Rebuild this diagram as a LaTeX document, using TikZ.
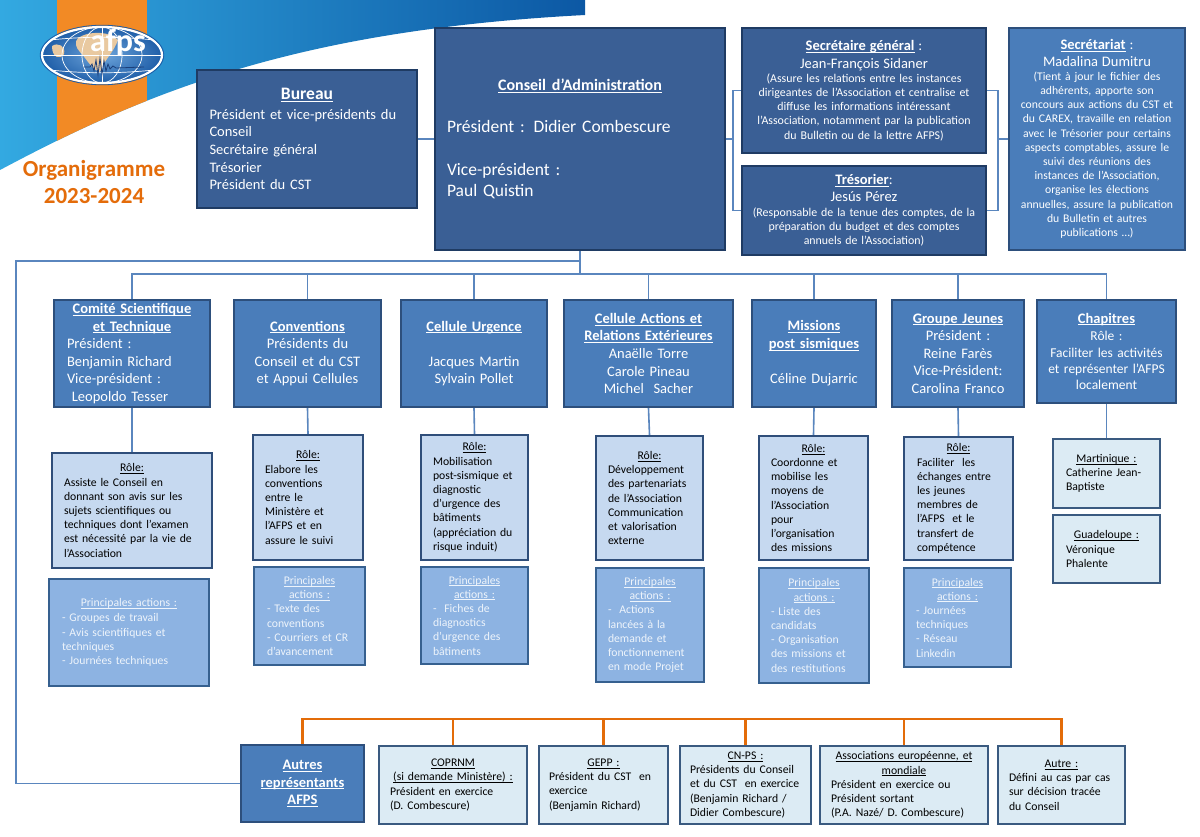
\documentclass[tikz,border=0pt]{standalone}
\usepackage{fontspec}
\setmainfont{Carlito}
\usetikzlibrary{calc}
\definecolor{cDark}{HTML}{3A5F95}
\definecolor{cDarkB}{HTML}{1F3B63}
\definecolor{cMid}{HTML}{4A7DBA}
\definecolor{cMidB}{HTML}{2D4F7C}
\definecolor{cRole}{HTML}{C6D9F0}
\definecolor{cRoleB}{HTML}{2F4E7A}
\definecolor{cAct}{HTML}{8DB3E2}
\definecolor{cActB}{HTML}{36608F}
\definecolor{cActT}{HTML}{EEF4FB}
\definecolor{cPale}{HTML}{DCEBF4}
\definecolor{cPaleB}{HTML}{3A5A80}
\definecolor{cLink}{HTML}{5A86BE}
\definecolor{cOrange}{HTML}{E36C09}
\definecolor{cTitle}{HTML}{E46C0A}
\definecolor{cBanL}{HTML}{33A9E1}
\definecolor{cBanR}{HTML}{0C58A4}
\definecolor{cStripe}{HTML}{F28A25}
\definecolor{cGlobeI}{HTML}{6FA6DC}
\definecolor{cGlobeO}{HTML}{1F5EA8}
\definecolor{cLand}{HTML}{E9C9A0}
\definecolor{cSeis}{HTML}{1B3F7A}
\newcommand{\ctrline}[1]{\makebox[\linewidth][c]{#1}}
\newcommand{\uln}[1]{\underline{\raisebox{0pt}[\height][0pt]{#1}}}
\begin{document}
\begin{tikzpicture}[x=1pt,y=-1pt,
  bx/.style={draw, line width=2.4pt, inner ysep=0pt, inner xsep=12pt, font=\fontsize{11.7}{14.2}\selectfont},
  darkbox/.style={bx, fill=cDark, draw=cDarkB, text=white},
  midbox/.style={bx, fill=cMid, draw=cMidB, text=white},
  rowtwo/.style={midbox, font=\fontsize{14.5}{17.6}\selectfont},
  rolebox/.style={bx, fill=cRole, draw=cRoleB, text=black, align=left},
  actbox/.style={bx, fill=cAct, draw=cActB, text=cActT, align=left},
  palebox/.style={bx, fill=cPale, draw=cPaleB, text=black, align=left},
  sz/.style 2 args={minimum width=#1pt, minimum height=#2pt},
  link/.style={draw=cLink, line width=1.6pt},
  olink/.style={draw=cOrange, line width=2.6pt},
]
\useasboundingbox (0,0) rectangle (1200,837);
\fill[white] (0,0) rectangle (1200,837);

% ---- banner ----
\shade[left color=cBanL, right color=cBanR] (0,0) -- (585,0) -- (585,15) .. controls (300,30) and (150,90) .. (0,170) -- cycle;
\begin{scope}
  \clip (0,0) -- (585,0) -- (585,15) .. controls (300,30) and (150,90) .. (0,170) -- cycle;
  \fill[cStripe] (57,0) rectangle (147,200);
\end{scope}

% ---- logo ----
\begin{scope}
  \clip (102,55) ellipse [x radius=60, y radius=28];
  \shade[inner color=cGlobeI, outer color=cGlobeO] (102,55) ellipse [x radius=60, y radius=28];
  \fill[cLand] (78,38) .. controls (90,30) and (112,32) .. (118,40) .. controls (114,52) and (104,60) .. (100,72) .. controls (92,70) and (86,58) .. (80,52) .. controls (76,48) and (74,42) .. (78,38) -- cycle;
  \fill[cLand] (52,46) .. controls (58,42) and (66,46) .. (64,54) .. controls (60,60) and (52,58) .. (52,46) -- cycle;
  \draw[white, line width=0.7pt] (102,27) -- (102,83);
  \draw[white, line width=0.7pt] (102,55) ellipse [x radius=20, y radius=28];
  \draw[white, line width=0.7pt] (102,55) ellipse [x radius=40, y radius=28];
  \draw[white, line width=0.7pt] (42,55) -- (162,55);
  \draw[white, line width=0.7pt] (42,41) .. controls (80,36) and (124,36) .. (162,41);
  \draw[white, line width=0.7pt] (42,69) .. controls (80,74) and (124,74) .. (162,69);
\end{scope}
\draw[white, line width=2.2pt] (102,55) ellipse [x radius=60, y radius=28];
\draw[cGlobeO, line width=0.8pt] (102,55) ellipse [x radius=61.8, y radius=29.8];
\draw[cSeis, line width=0.8pt] (84,67) -- (90,67) -- (92,64) -- (94,71) -- (96,60) -- (98,75) -- (100,58) -- (102,74) -- (104,61) -- (106,71) -- (108,64) -- (110,69) -- (113,66) -- (116,68) -- (144,67);
\node[anchor=base, font=\fontsize{32}{32}\selectfont\bfseries, text=white, inner sep=0pt] (logo) at (118,52) {afps};

% ---- title ----
\node[align=center, text=cTitle, font=\fontsize{23}{27}\selectfont\bfseries] (orga) at (94,182) {Organigramme\\2023-2024};

% ---- top boxes ----
\node[darkbox, sz={220}{138}, inner xsep=12.5pt, text width=195pt, align=left, font=\fontsize{14.5}{17.7}\selectfont] (bureau) at (307,139)
 {\ctrline{\fontsize{17.5}{20}\selectfont\bfseries\uln{Bureau}}\\[2pt]
  Président et vice-présidents du\\ Conseil\\ Secrétaire général\\ Trésorier\\ Président du CST};

\node[darkbox, sz={290}{222}, text width=266pt, align=left, font=\fontsize{17.5}{21.3}\selectfont] (ca) at (580,139)
 {\ctrline{\fontsize{16}{19}\selectfont\bfseries\uln{Conseil d’Administration}}\\[20pt]
  Président : Didier Combescure\\[22pt]
  Vice-président :\\ Paul Quistin};

\node[darkbox, sz={244}{125}, inner xsep=6pt, text width=232pt, align=center] (sg) at (864,90.5)
 {{\fontsize{14.5}{17.5}\selectfont\textbf{\uln{Secrétaire général}} :\\ Jean-François Sidaner\par}
  {\fontsize{11.9}{14.2}\selectfont (Assure les relations entre les instances\\ dirigeantes de l’Association et centralise et\\ diffuse les informations intéressant\\ l’Association, notamment par la publication\\ du Bulletin ou de la lettre AFPS)\par}};

\node[darkbox, sz={244}{89}, inner xsep=6pt, text width=232pt, align=center] (tres) at (864,210.5)
 {{\fontsize{14.5}{17}\selectfont\textbf{\uln{Trésorier}}:\\ Jesús Pérez\par}
  {\fontsize{11.9}{14.2}\selectfont (Responsable de la tenue des comptes, de la\\ préparation du budget et des comptes\\ annuels de l’Association)\par}};

\node[midbox, sz={176}{222}, inner xsep=5pt, text width=166pt, align=center] (secr) at (1097,139)
 {{\fontsize{14.5}{16.5}\selectfont\textbf{\uln{Secrétariat}} :\\ Madalina Dumitru\par}
  {\fontsize{11.7}{14.2}\selectfont (Tient à jour le fichier des\\ adhérents, apporte son\\ concours aux actions du CST et\\ du CAREX, travaille en relation\\ avec le Trésorier pour certains\\ aspects comptables, assure le\\ suivi des réunions des\\ instances de l’Association,\\ organise les élections\\ annuelles, assure la publication\\ du Bulletin et autres\\ publications …)\par}};

% ---- second row ----
\node[rowtwo, sz={156}{107}, inner xsep=13pt, text width=130pt, align=left] (cst) at (132,353.5)
 {\ctrline{\textbf{\uln{Comité Scientifique}}}\\ \ctrline{\textbf{\uln{et Technique}}}\\
  Président :\\ Benjamin Richard\\ Vice-président :\\ \ Leopoldo Tesser};
\node[rowtwo, sz={147}{107}, inner xsep=5pt, text width=137pt, align=center] (conv) at (307.5,353.5)
 {\textbf{\uln{Conventions}}\\ Présidents du\\ Conseil et du CST\\ et Appui Cellules};
\node[rowtwo, sz={146}{107}, inner xsep=5pt, text width=136pt, align=center] (cu) at (474,353.5)
 {\textbf{\uln{Cellule Urgence}}\\[17.6pt] Jacques Martin\\ Sylvain Pollet};
\node[rowtwo, sz={169}{107}, inner xsep=5pt, text width=159pt, align=center] (cae) at (648.5,353.5)
 {\textbf{\uln{Cellule Actions et}}\\ \textbf{\uln{Relations Extérieures}}\\ Anaëlle Torre\\ Carole Pineau\\ Michel\ \ Sacher};
\node[rowtwo, sz={124}{107}, inner xsep=5pt, text width=114pt, align=center] (mps) at (814,353.5)
 {\textbf{\uln{Missions}}\\ \textbf{\uln{post sismiques}}\\[17.6pt] Céline Dujarric};
\node[rowtwo, sz={132}{107}, inner xsep=5pt, text width=122pt, align=center] (gj) at (958,353.5)
 {\textbf{\uln{Groupe Jeunes}}\\ Président :\\ Reine Farès\\ Vice-Président:\\ Carolina Franco};
\node[midbox, sz={139}{103}, inner xsep=5pt, text width=129pt, align=center, font=\fontsize{13.5}{16.3}\selectfont] (chap) at (1106.5,351.5)
 {{\fontsize{14.5}{17}\selectfont\textbf{\uln{Chapitres}}}\\[1.5pt] Rôle :\\ Faciliter les activités\\ et représenter l’AFPS\\ localement};

% ---- role boxes ----
\node[rolebox, sz={160}{115}, text width=136pt] (cstrole) at (132,510.5)
 {\ctrline{\uln{Rôle:}}\\ Assiste le Conseil en\\ donnant son avis sur les\\ sujets scientifiques ou\\ techniques dont l’examen\\ est nécessité par la vie de\\ l’Association};
\node[rolebox, sz={110}{125}, text width=86pt] (convrole) at (308,497.5)
 {\ctrline{\uln{Rôle:}}\\ Elabore les\\ conventions\\ entre le\\ Ministère et\\ l’AFPS et en\\ assure le suivi};
\node[rolebox, sz={107}{125}, text width=83pt] (curole) at (474.5,497.5)
 {\ctrline{\uln{Rôle:}}\\ Mobilisation\\ post-sismique et\\ diagnostic\\ d’urgence des\\ bâtiments\\ (appréciation du\\ risque induit)};
\node[rolebox, sz={107}{124}, text width=83pt] (carole) at (649.5,498)
 {\ctrline{\uln{Rôle:}}\\ Développement\\ des partenariats\\ de l’Association\\ Communication\\ et valorisation\\ externe};
\node[rolebox, sz={109}{124}, text width=85pt] (mpsrole) at (813.5,498)
 {\ctrline{\uln{Rôle:}}\\ Coordonne et\\ mobilise les\\ moyens de\\ l’Association\\ pour\\ l’organisation\\ des missions};
\node[rolebox, sz={109}{123}, inner xsep=13pt, text width=83pt] (gjrole) at (958.5,498.5)
 {\ctrline{\uln{Rôle:}}\\ Faciliter\ \ les\\ échanges entre\\ les jeunes\\ membres de\\ l’AFPS\ \ et le\\ transfert de\\ compétence};

% ---- action boxes ----
\node[actbox, sz={160}{107}, inner xsep=13pt, text width=134pt] (cstact) at (129,632.5)
 {\ctrline{\uln{Principales actions :}}\\[1pt] - Groupes de travail\\ - Avis scientifiques et\\ techniques\\ - Journées techniques};
\node[actbox, sz={111}{98}, inner xsep=13pt, text width=85pt] (convact) at (309.5,616)
 {\ctrline{\uln{Principales}}\\ \ctrline{\uln{actions :}}\\ - Texte des\\ conventions\\ - Courriers et CR\\ d’avancement};
\node[actbox, sz={107}{97}, text width=83pt] (cuact) at (474.5,615.5)
 {\ctrline{\uln{Principales}}\\ \ctrline{\uln{actions :}}\\ -\ \ Fiches de\\ diagnostics\\ d’urgence des\\ bâtiments};
\node[actbox, sz={108}{114}, text width=84pt] (caact) at (650,625)
 {\ctrline{\uln{Principales}}\\ \ctrline{\uln{actions :}}\\ -\ \ Actions\\ lancées à la\\ demande et\\ fonctionnement\\ en mode Projet};
\node[actbox, sz={110}{115}, text width=86pt] (mpsact) at (814,625.5)
 {\ctrline{\uln{Principales}}\\ \ctrline{\uln{actions :}}\\ - Liste des\\ candidats\\ - Organisation\\ des missions et\\ des restitutions};
\node[actbox, sz={107}{99}, text width=83pt] (gjact) at (957.5,617.5)
 {\ctrline{\uln{Principales}}\\ \ctrline{\uln{actions :}}\\ - Journées\\ techniques\\ - Réseau\\ Linkedin};

% ---- chapitres ----
\node[palebox, sz={107}{69}, inner xsep=13pt, text width=81pt] (mart) at (1106.5,473.5)
 {\ctrline{\uln{Martinique :}}\\ Catherine Jean-\\ Baptiste};
\node[palebox, sz={107}{68}, inner xsep=13pt, text width=81pt] (guad) at (1106.5,549)
 {\ctrline{\uln{Guadeloupe :}}\\ Véronique\\ Phalente};

% ---- bottom row ----
\node[midbox, sz={123}{77}, inner xsep=5pt, text width=113pt, align=center, font=\fontsize{14.5}{17.7}\selectfont\bfseries] (autres) at (302.5,783.5)
 {\uln{Autres}\\ \uln{représentants}\\ \uln{AFPS}};
\node[palebox, sz={148}{78}, inner xsep=11pt, text width=126pt] (coprnm) at (453,785)
 {\ctrline{\uln{COPRNM}}\\ \ctrline{\uln{(si demande Ministère) :}}\\ Président en exercice\\ (D. Combescure)};
\node[palebox, sz={129}{78}, inner xsep=10pt, text width=109pt] (gepp) at (603.5,785)
 {\ctrline{\uln{GEPP :}}\\ Président du CST\ \ en\\ exercice\\ (Benjamin Richard)};
\node[palebox, sz={131}{78}, inner xsep=10pt, text width=111pt] (cnps) at (745.5,785)
 {\ctrline{\uln{CN-PS :}}\\ Présidents du Conseil\\ et du CST\ \ en exercice\\ (Benjamin Richard /\\ Didier Combescure)};
\node[palebox, sz={168}{78}, inner xsep=11pt, text width=146pt] (assoc) at (904,785)
 {\ctrline{\uln{Associations européenne, et}}\\ \ctrline{\uln{mondiale}}\\ Président en exercice ou\\ Président sortant\\ (P.A. Nazé/ D. Combescure)};
\node[palebox, sz={127}{78}, inner xsep=11pt, text width=105pt] (autre) at (1061.5,785)
 {\ctrline{\uln{Autre :}}\\ Défini au cas par cas\\ sur décision tracée\\ du Conseil};

% ---- connectors ----
\coordinate (bl) at (733,139);
\coordinate (br) at (998,139);
\coordinate (hub) at (580,274);
\coordinate (outer) at (580,261);
\coordinate (lc) at (16,783.5);
\coordinate (ohub) at (302.5,719);

\draw[link] (bureau.east) -- (ca.west);
\draw[link] (ca.east) -- (bl);
\draw[link] (sg.west) -| (bl) |- (tres.west);
\draw[link] (sg.east) -| (br) |- (tres.east);
\draw[link] (br) -- (secr.west);
\draw[link] (ca.south) -- (hub);
\draw[link] (outer) -| (lc) -- (autres.west);
\draw[link] (cst.north) |- (hub) -| (chap.north);
\foreach \n in {conv,cu,cae,mps,gj}{\draw[link] (\n.north) -- (\n.north |- hub);}
\draw[link] (cst.south) -- (cstrole.north);
\draw[link] (conv.south) -- (convrole.north);
\draw[link] (cu.south) -- (curole.north);
\draw[link] (cae.south) -- (carole.north);
\draw[link] (mps.south) -- (mpsrole.north);
\draw[link] (gj.south) -- (gjrole.north);
\draw[link] (chap.south) -- (mart.north);
\draw[olink] (autres.north) -- (ohub) -| (autre.north);
\foreach \n in {coprnm,gepp,cnps,assoc}{\draw[olink] (\n.north) -- (\n.north |- ohub);}
\end{tikzpicture}
\end{document}
